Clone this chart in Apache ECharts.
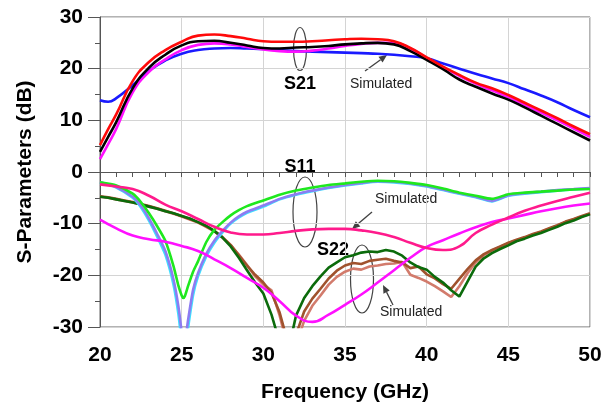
<!DOCTYPE html>
<html>
<head>
<meta charset="utf-8">
<script src="https://cdn.jsdelivr.net/npm/echarts@6/dist/echarts.min.js"></script>
<style>
    html, body { margin: 0; padding: 0; background: #fff; }
    #main { width: 614px; height: 405px; }
</style>
</head>
<body>
<div id="main"></div>
<script>
    // frequency grids (GHz)
    var freqS21 = [20, 20.5, 21, 22, 23, 24, 25, 26, 27, 28, 29, 30, 31, 32, 33, 34, 35, 36, 37, 38, 39, 40, 41, 42, 43, 44, 45, 46, 47, 48, 49, 50];
    var freqS11 = [20, 21, 22, 22.5, 23, 23.5, 24, 24.5, 24.8, 25, 25.1, 25.2, 25.4, 25.7, 26, 26.5, 27, 27.5, 28, 28.5, 29,
        30, 31, 32, 33, 34, 35, 36, 37, 38, 39, 40, 41, 42, 43, 44, 45, 46, 47, 48, 49, 50];
    var freqSim = [20, 21, 22, 23, 24, 25, 26, 27, 28, 29, 30, 31, 32, 33, 34, 35, 36, 37, 38, 39, 40, 41, 42, 43, 44, 45, 46, 47, 48, 49, 50];
    var freqMeas = [20, 20.5, 21, 21.5, 22, 22.5, 23, 23.5, 24, 24.5, 25, 25.5, 26, 26.5, 27, 27.5, 28, 28.5, 29, 29.5,
        30, 30.5, 31, 31.5, 32, 32.5, 33, 33.5, 34, 34.5, 35, 35.5, 36, 36.5, 37, 37.5, 38, 38.5, 39, 39.5,
        40, 40.5, 41, 41.5, 42, 42.5, 43, 43.5, 44, 44.5, 45, 45.5, 46, 46.5, 47, 47.5, 48, 48.5, 49, 49.5, 50];

    // S21 (dB)
    var s21Red = [5.2, 8.3, 11.2, 17.6, 21.3, 23.6, 25.2, 26.4, 26.6, 26.3, 25.8, 25.3, 25.2, 25.2, 25.3, 25.5, 25.7, 25.8, 25.7, 25.3,
        24.0, 22.2, 20.4, 18.8, 17.3, 16.2, 14.9, 13.4, 11.9, 10.4, 8.8, 7.3];
    var s21Black = [3.9, 6.8, 9.7, 16.2, 20.2, 22.7, 24.5, 25.3, 25.4, 25.0, 24.5, 24.0, 23.9, 24.1, 24.2, 24.4, 24.7, 24.9, 25.0, 24.7,
        23.4, 21.7, 19.9, 17.9, 16.5, 15.2, 14.0, 12.5, 10.9, 9.3, 7.7, 6.1];
    var s21Magenta = [2.5, 5.4, 8.4, 15.4, 19.4, 21.8, 23.6, 24.6, 24.9, 24.7, 24.2, 23.7, 23.4, 23.3, 23.5, 23.9, 24.4, 24.8, 25.0, 25.0,
        23.9, 22.1, 20.3, 18.6, 17.1, 15.8, 14.5, 13.0, 11.5, 10.0, 8.4, 6.8];
    var s21Sim = [13.9, 13.6, 14.3, 16.8, 19.6, 21.6, 22.9, 23.6, 23.9, 24.0, 23.9, 23.8, 23.6, 23.4, 23.3, 23.2, 23.1, 23.0, 22.9, 22.7,
        22.4, 22.0, 21.0, 20.0, 19.0, 18.1, 17.2, 16.0, 14.8, 13.5, 12.0, 10.6];

    // S11 (dB)
    var s11Green = [-2.0, -2.6, -4.2, -5.8, -8.0, -10.5, -13.3, -18.2, -22.0, -23.9, -24.4, -24.0, -22.0, -19.3, -17.3, -13.6, -11.2, -9.7, -8.4, -7.4, -6.6,
        -5.5, -4.4, -3.6, -3.0, -2.5, -2.2, -1.9, -1.7, -1.8, -2.1, -2.5, -3.2, -4.0, -4.6, -5.2, -4.3, -4.0, -3.8, -3.6, -3.4, -3.3];
    var s11Violet = [-2.0, -2.9, -4.8, -6.5, -9.0, -12.0, -15.3, -20.8, -26.0, -31.0, -34.0, -33.0, -28.5, -22.8, -19.6, -15.9, -13.3, -11.4, -9.8, -8.6, -7.7,
        -6.5, -5.2, -4.3, -3.6, -3.0, -2.5, -2.1, -1.8, -1.9, -2.2, -2.7, -3.4, -4.1, -4.8, -5.6, -4.5, -4.1, -3.8, -3.5, -3.3, -3.1];
    var s11Cyan = [-2.0, -3.0, -5.0, -6.8, -9.4, -12.5, -16.0, -21.8, -27.5, -33.0, -36.0, -35.0, -30.0, -23.8, -20.2, -16.4, -13.7, -11.7, -10.0, -8.8, -7.9,
        -6.7, -5.3, -4.4, -3.7, -3.1, -2.6, -2.2, -1.9, -2.0, -2.3, -2.8, -3.5, -4.2, -4.9, -5.7, -4.6, -4.2, -3.9, -3.6, -3.4, -3.2];
    var s11Sim = [-2.4, -2.8, -3.3, -4.6, -6.3, -7.6, -9.1, -10.6, -11.7, -12.1, -12.1, -11.8, -11.4, -11.1, -11.0, -11.0, -11.3, -11.8, -12.6, -13.7,
        -14.7, -15.1, -14.4, -11.8, -10.2, -8.8, -7.5, -6.5, -5.6, -4.8, -4.0];

    // S22 (dB)
    var s22Sim = [-9.2, -10.9, -12.3, -13.0, -13.5, -14.3, -15.3, -16.9, -18.6, -20.5, -22.4, -25.0, -27.8, -29.0, -27.6, -25.7, -23.7, -21.4, -19.0, -16.6,
        -14.5, -13.2, -11.9, -10.7, -9.7, -9.0, -8.3, -7.6, -7.0, -6.5, -6.1];
    var s22DarkGreen = [-4.8, -5.0, -5.3, -5.6, -5.9, -6.3, -6.7, -7.1, -7.6, -8.0,
        -8.5, -9.0, -9.7, -10.4, -11.4, -12.7, -14.4, -16.6, -19.0, -21.4,
        -23.5, -27.6, -33, -35, -27.8, -24.4, -22.1, -20.2, -18.5, -17.5,
        -16.5, -16.1, -15.6, -15.4, -15.5, -15.1, -15.4, -16.2, -17.5, -18.4,
        -18.9, -20.3, -21.4, -22.9, -24.1, -21.2, -18.3, -16.7, -15.7, -14.9,
        -14.2, -13.4, -12.9, -12.3, -11.8, -11.2, -10.6, -9.9, -9.4, -8.7,
        -8.2];
    var s22Brown = [-4.7, -4.9, -5.2, -5.5, -5.8, -6.2, -6.6, -7.0, -7.5, -8.0,
        -8.5, -9.1, -9.7, -10.5, -11.4, -12.6, -14.1, -16.1, -18.1, -19.9,
        -21.4, -23.4, -27.2, -33, -31.5, -27.0, -24.5, -22.6, -20.6, -19.1,
        -18.1, -17.6, -17.8, -17.2, -17.0, -16.8, -17.2, -17.5, -18.6, -18.3,
        -19.8, -20.6, -21.7, -22.6, -20.7, -18.8, -17.1, -15.9, -15.1, -14.4,
        -13.7, -13.1, -12.6, -12.0, -11.5, -10.9, -10.3, -9.6, -9.1, -8.5,
        -8.0];
    var s22Salmon = [-4.8, -5.0, -5.3, -5.6, -5.9, -6.3, -6.7, -7.1, -7.6, -8.1,
        -8.6, -9.2, -9.8, -10.6, -11.5, -12.7, -14.2, -16.0, -18.0, -20.2,
        -21.8, -22.9, -27.8, -34, -33.5, -28.8, -25.9, -23.9, -21.8, -20.3,
        -19.3, -18.7, -18.9, -18.3, -18.1, -17.8, -17.7, -17.4, -19.9, -20.5,
        -21.2, -22.1, -23.1, -24.2, -22.1, -19.6, -17.5, -16.1, -15.2, -14.5,
        -13.8, -13.2, -12.7, -12.1, -11.6, -11.0, -10.4, -9.7, -9.2, -8.6,
        -8.1];

    var FONT = '"Liberation Sans", Arial, sans-serif';

    function pairs(xs, ys) {
        return xs.map(function (x, i) { return [x, ys[i]]; });
    }

    function line(name, xs, ys, color, smooth) {
        return {
            name: name,
            type: 'line',
            data: pairs(xs, ys),
            showSymbol: false,
            smooth: smooth,
            clip: true,
            lineStyle: { color: color, width: 2.6 },
            silent: true
        };
    }

    // arrow drawn as a line plus a filled head
    function arrow(x1, y1, x2, y2) {
        var a = Math.atan2(y2 - y1, x2 - x1), L = 8, W = 3.5;
        var bx = x2 - L * Math.cos(a), by = y2 - L * Math.sin(a);
        var px = -Math.sin(a) * W, py = Math.cos(a) * W;
        return {
            type: 'group',
            children: [
                { type: 'line', shape: { x1: x1, y1: y1, x2: bx, y2: by }, style: { stroke: '#404040', lineWidth: 1.3 } },
                { type: 'polygon', shape: { points: [[x2, y2], [bx + px, by + py], [bx - px, by - py]] }, style: { fill: '#404040' } }
            ]
        };
    }

    function label(text, x, y, bold, align) {
        return {
            type: 'text', x: x, y: y,
            style: {
                text: text, fill: bold ? '#000' : '#222',
                font: (bold ? 'bold 18px ' : '14px ') + FONT,
                align: align || 'center', verticalAlign: 'middle'
            }
        };
    }

    function oval(cx, cy, rx, ry) {
        return { type: 'ellipse', shape: { cx: cx, cy: cy, rx: rx, ry: ry }, style: { fill: null, stroke: '#444', lineWidth: 1.2 } };
    }

    var myChart = echarts.init(document.getElementById('main'), null, { renderer: 'canvas' });

    var option = {
        animation: false,
        backgroundColor: '#fff',
        grid: {
            left: 100, right: 24, top: 17, bottom: 78,
            outerBoundsMode: 'none',
            show: true, borderColor: '#666', borderWidth: 1
        },
        xAxis: {
            type: 'value', min: 20, max: 50, interval: 5,
            name: 'Frequency (GHz)', nameLocation: 'middle', nameGap: 55,
            nameTextStyle: { fontFamily: FONT, fontWeight: 'bold', fontSize: 21, color: '#000' },
            axisLine: { show: true, lineStyle: { color: '#555', width: 1 } },
            axisTick: { show: true, length: 5, lineStyle: { color: '#555' } },
            minorTick: { show: true, splitNumber: 5, length: 5, lineStyle: { color: '#555' } },
            splitLine: { show: true, lineStyle: { color: '#d4d4d4', width: 1 } },
            axisLabel: { fontFamily: FONT, fontWeight: 'bold', fontSize: 21, color: '#000', margin: 18 }
        },
        yAxis: {
            type: 'value', min: -30, max: 30, interval: 10,
            name: 'S-Parameters (dB)', nameLocation: 'middle', nameGap: 64, nameRotate: 90,
            nameTextStyle: { fontFamily: FONT, fontWeight: 'bold', fontSize: 21, color: '#000' },
            axisLine: { show: true, lineStyle: { color: '#555', width: 1 } },
            axisTick: { show: true, length: 12, lineStyle: { color: '#555' } },
            minorTick: { show: true, splitNumber: 2, length: 5, lineStyle: { color: '#555' } },
            splitLine: { show: true, lineStyle: { color: '#d4d4d4', width: 1 } },
            axisLabel: { fontFamily: FONT, fontWeight: 'bold', fontSize: 21, color: '#000', margin: 17 }
        },
        series: [
            line('S22 meas 3', freqMeas, s22Salmon, '#d27b6c', false),
            line('S22 meas 2', freqMeas, s22Brown, '#a0522d', false),
            line('S22 meas 1', freqMeas, s22DarkGreen, '#0b6b0b', false),
            line('S11 meas 3', freqS11, s11Cyan, '#3ee0ff', 0.2),
            line('S11 meas 2', freqS11, s11Violet, '#8c7cf2', 0.2),
            line('S11 meas 1', freqS11, s11Green, '#1ee81e', 0.2),
            line('S22 sim', freqSim, s22Sim, '#ff10ff', true),
            line('S11 sim', freqSim, s11Sim, '#ff1a8c', true),
            line('S21 sim', freqS21, s21Sim, '#1a1aff', true),
            line('S21 meas 3', freqS21, s21Magenta, '#ff10ff', true),
            line('S21 meas 2', freqS21, s21Black, '#000000', true),
            line('S21 meas 1', freqS21, s21Red, '#ff0a0a', true)
        ],
        graphic: [
            oval(300, 49, 6.5, 21.5),
            label('S21', 300, 84, true),
            label('Simulated', 350, 84, false, 'left'),
            arrow(365, 71, 387, 55),

            oval(305, 212, 12, 35),
            label('S11', 300, 167, true),
            label('Simulated', 375, 199, false, 'left'),
            arrow(372, 212, 352, 229),

            oval(362, 279, 11.5, 34),
            label('S22', 333, 250, true),
            label('Simulated', 380, 312, false, 'left'),
            arrow(393, 305, 383, 285)
        ]
    };

    myChart.setOption(option);
</script>
</body>
</html>
